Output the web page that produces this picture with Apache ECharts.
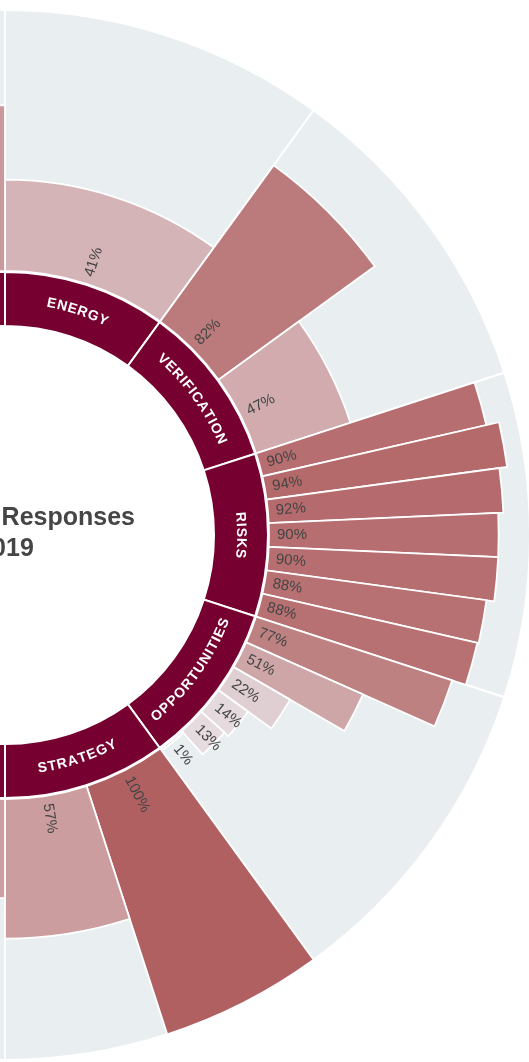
<!DOCTYPE html>
<html>
<head>
<meta charset="utf-8">
<script src="https://cdn.jsdelivr.net/npm/echarts@6/dist/echarts.min.js"></script>
<style>
html,body{margin:0;padding:0;background:#fff;overflow:hidden}
#chart{width:529px;height:1062px}
</style>
</head>
<body>
<div id="chart"></div>
<script>
// Sections, clockwise from 12 o'clock (right half visible, left half off-canvas)
const categories = ['ENERGY', 'VERIFICATION', 'RISKS', 'OPPORTUNITIES', 'STRATEGY',
                    'TARGETS', 'EMISSIONS', 'CARBON PRICING', 'ENGAGEMENT', 'GOVERNANCE'];
// Percentage printed on each bar of each section
const percentLabels = [
  [41],
  [82, 47],
  [90, 94, 92, 90, 90, 88, 88],
  [77, 51, 22, 14, 13, 1],
  [100, 57],
  [55], [], [], [], [60]
];
// Radial extent of each bar (0 = ring edge, 100 = outer edge)
const barLengths = [
  [35],
  [74, 38],
  [88, 93, 90, 88, 88, 85, 84.5],
  [79, 49, 25, 14, 12, 1],
  [100, 53.5],
  [38], [], [], [], [63.5]
];
const titleLines = ['CDP Responses', '2019'];

const slot = 360 / categories.length;
const FONT = '"Liberation Sans", Arial, sans-serif';

const barData = [];
categories.forEach((c, i) => {
  const n = barLengths[i].length;
  barLengths[i].forEach((len, j) => barData.push([len, i, j, n, percentLabels[i][j]]));
});
const bgData = categories.map((c, i) => [100, i]);
const ringData = categories.map((c, i) => [0, i]);

function geom(params, api) {
  const cs = params.coordSys;
  const cx = cs.cx, cy = cs.cy;
  const rOf = v => { const p = api.coord([v, 0]); return Math.hypot(p[0] - cx, p[1] - cy); };
  const psi = a => { const p = api.coord([100, a]); return Math.atan2(p[1] - cy, p[0] - cx); };
  const span = (a0, a1) => {
    const s = psi(a0);
    let d = psi(a1) - s;
    while (d <= 0) d += Math.PI * 2;
    while (d > Math.PI * 2) d -= Math.PI * 2;
    return [s, s + d];
  };
  return { cx, cy, rOf, span };
}

const mctx = document.createElement('canvas').getContext('2d');
const ringFont = 'bold 14px ' + FONT;
const letterGap = 0.9;

const chart = echarts.init(document.getElementById('chart'), null, { renderer: 'canvas' });
chart.setOption({
  animation: false,
  backgroundColor: '#ffffff',
  polar: { center: [5, 535], radius: [264, 525] },
  angleAxis: {
    type: 'value', min: 0, max: 360, startAngle: 90, clockwise: true,
    axisLine: { show: false }, axisTick: { show: false }, axisLabel: { show: false }, splitLine: { show: false }
  },
  radiusAxis: {
    type: 'value', min: 0, max: 100,
    axisLine: { show: false }, axisTick: { show: false }, axisLabel: { show: false }, splitLine: { show: false }
  },
  visualMap: {
    type: 'continuous', show: false, seriesIndex: 1, dimension: 4, min: 0, max: 100,
    inRange: { color: ['#eeeef2', '#b06061'] }
  },
  graphic: [
    { type: 'text', x: 135, y: 518, style: { text: titleLines[0], font: 'bold 25px ' + FONT, fill: '#454545', align: 'right', verticalAlign: 'middle' } },
    { type: 'text', x: 6, y: 549, style: { text: titleLines[1], font: 'bold 25px ' + FONT, fill: '#454545', align: 'center', verticalAlign: 'middle' } }
  ],
  series: [
    {
      type: 'custom', coordinateSystem: 'polar', data: bgData, silent: true,
      renderItem(params, api) {
        const g = geom(params, api);
        const i = api.value(1);
        const [s, e] = g.span(i * slot, (i + 1) * slot);
        return {
          type: 'sector',
          shape: { cx: g.cx, cy: g.cy, r0: g.rOf(0), r: g.rOf(api.value(0)), startAngle: s, endAngle: e, clockwise: true },
          style: { fill: '#e9eef0', stroke: '#ffffff', lineWidth: 2 }
        };
      }
    },
    {
      type: 'custom', coordinateSystem: 'polar', data: barData, silent: true,
      renderItem(params, api) {
        const g = geom(params, api);
        const i = api.value(1), j = api.value(2), n = api.value(3);
        const [s, e] = g.span((i + j / n) * slot, (i + (j + 1) / n) * slot);
        const r0 = g.rOf(0), r = g.rOf(api.value(0));
        const mid = (s + e) / 2;
        const lr = r0 + 8;
        return {
          type: 'group',
          children: [
            {
              type: 'sector',
              shape: { cx: g.cx, cy: g.cy, r0: r0, r: r, startAngle: s, endAngle: e, clockwise: true },
              style: { fill: api.visual('color'), stroke: '#ffffff', lineWidth: 1.8 }
            },
            {
              type: 'text',
              x: g.cx + lr * Math.cos(mid), y: g.cy + lr * Math.sin(mid), rotation: -mid,
              style: { text: api.value(4) + '%', fill: '#444444', font: '15px ' + FONT, align: 'left', verticalAlign: 'middle' }
            }
          ]
        };
      }
    },
    {
      type: 'custom', coordinateSystem: 'polar', data: ringData, silent: true,
      renderItem(params, api) {
        const g = geom(params, api);
        const i = api.value(1);
        const [s, e] = g.span(i * slot, (i + 1) * slot);
        const rb = g.rOf(0);
        const ro = rb - 1, ri = rb - 55;
        const rt = (ri + ro) / 2;
        const children = [{
          type: 'sector',
          shape: { cx: g.cx, cy: g.cy, r0: ri, r: ro, startAngle: s, endAngle: e, clockwise: true },
          style: { fill: '#76002f', stroke: '#ffffff', lineWidth: 2 }
        }];
        const name = categories[i];
        const midA = (i + 0.5) * slot;
        const cw = midA <= 90 || midA >= 270;
        const mid = (s + e) / 2;
        mctx.font = ringFont;
        const chars = Array.from(name);
        const ws = chars.map(ch => mctx.measureText(ch).width);
        const L = ws.reduce((a, b) => a + b, 0) + letterGap * (ws.length - 1);
        let acc = 0;
        chars.forEach((ch, k) => {
          const d = acc + ws[k] / 2 - L / 2;
          acc += ws[k] + letterGap;
          const ang = mid + (cw ? 1 : -1) * d / rt;
          const rot = cw ? -(ang + Math.PI / 2) : (Math.PI / 2 - ang);
          children.push({
            type: 'text',
            x: g.cx + rt * Math.cos(ang), y: g.cy + rt * Math.sin(ang), rotation: rot,
            style: { text: ch, fill: '#ffffff', font: ringFont, align: 'center', verticalAlign: 'middle' }
          });
        });
        return { type: 'group', children: children };
      }
    }
  ]
});
</script>
</body>
</html>
